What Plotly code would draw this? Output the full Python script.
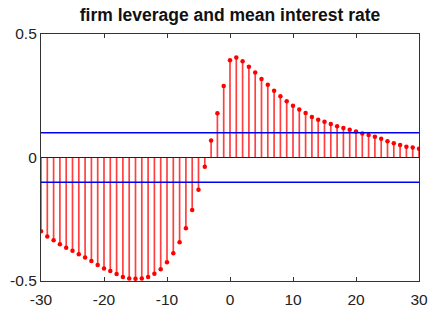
import plotly.graph_objects as go

# lags and correlation values
lags = list(range(-30, 31))
corr = [
    -0.299, -0.320, -0.335, -0.351, -0.365, -0.378, -0.392, -0.405, -0.419, -0.435,
    -0.449, -0.460, -0.472, -0.484, -0.490, -0.491, -0.490, -0.484, -0.471, -0.452,
    -0.424, -0.388, -0.343, -0.286, -0.213, -0.131, -0.037, 0.069, 0.179, 0.289,
    0.394, 0.405, 0.390, 0.367, 0.344, 0.318, 0.295, 0.270, 0.248, 0.228,
    0.210, 0.194, 0.180, 0.164, 0.153, 0.145, 0.136, 0.127, 0.119, 0.112,
    0.105, 0.097, 0.091, 0.084, 0.076, 0.066, 0.058, 0.051, 0.044, 0.040,
    0.035,
]
band = 0.1

x_ticks = [-30, -20, -10, 0, 10, 20, 30]
x_text = ["-30", "-20", "-10", "0", "10", "20", "30"]
y_ticks = [-0.5, 0, 0.5]
y_text = ["-0.5", "0", "0.5"]

# stems: vertical segments from zero to each value
sx, sy = [], []
for x, y in zip(lags, corr):
    sx += [x, x, None]
    sy += [0, y, None]

fig = go.Figure()
fig.add_trace(go.Scatter(x=sx, y=sy, mode="lines",
                         line=dict(color="rgba(255,0,0,0.75)", width=1.7),
                         hoverinfo="skip", showlegend=False))
fig.add_trace(go.Scatter(x=lags, y=corr, mode="markers",
                         marker=dict(color="red", size=4.5),
                         showlegend=False))

# zero line and confidence bands
fig.add_hline(y=0, line=dict(color="#222222", width=1.2), layer="above")
fig.add_hline(y=band, line=dict(color="#0000ee", width=1.5))
fig.add_hline(y=-band, line=dict(color="#0000ee", width=1.5))

axis_font = dict(family="Liberation Sans, Arial, sans-serif", size=15.5, color="#222222")
fig.update_xaxes(range=[-30, 30], tickvals=x_ticks, ticktext=x_text,
                 ticks="inside", ticklen=4, tickcolor="#333333",
                 showline=True, linecolor="#333333", linewidth=1.2,
                 mirror="ticks", showgrid=False, zeroline=False,
                 tickfont=axis_font, ticklabelstandoff=4, automargin=False)
fig.update_yaxes(range=[-0.5, 0.5], tickvals=y_ticks, ticktext=y_text,
                 ticks="", showline=True, linecolor="#333333", linewidth=1.2,
                 mirror=True, showgrid=False, zeroline=False,
                 tickfont=axis_font, automargin=False)

fig.update_layout(
    width=433, height=321,
    margin=dict(l=41, r=14, t=34, b=40),
    paper_bgcolor="white", plot_bgcolor="white",
    title=dict(text="<b>firm leverage and mean interest rate</b>",
               xref="paper", x=0.5, xanchor="center", y=0.955, yanchor="middle",
               font=dict(family="Liberation Sans, Arial, sans-serif", size=17.5, color="#111111")),
)

fig.write_html("out.html")
